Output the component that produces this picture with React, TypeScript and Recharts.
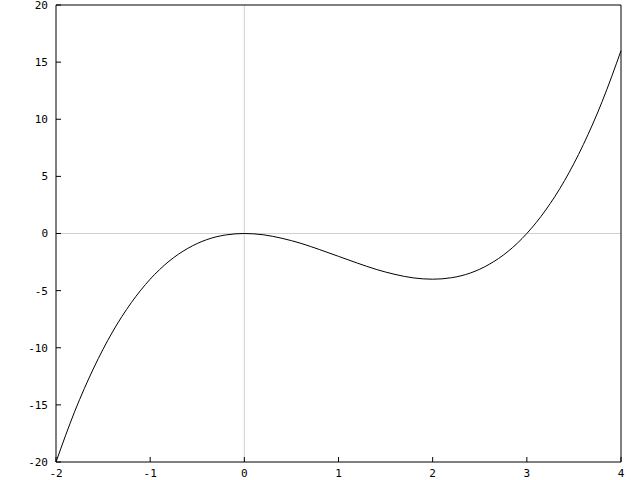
import { LineChart, Line, XAxis, YAxis, ReferenceLine } from "recharts";

// curve values, x step 0.2
const xValues = [
  -2, -1.8, -1.6, -1.4, -1.2, -1, -0.8, -0.6, -0.4, -0.2, 0, 0.2, 0.4, 0.6, 0.8, 1,
  1.2, 1.4, 1.6, 1.8, 2, 2.2, 2.4, 2.6, 2.8, 3, 3.2, 3.4, 3.6, 3.8, 4,
];
const yValues = [
  -20, -15.55, -11.78, -8.62, -6.05, -4, -2.43, -1.3, -0.54, -0.13, 0, -0.11, -0.42,
  -0.86, -1.41, -2, -2.59, -3.14, -3.58, -3.89, -4, -3.87, -3.46, -2.7, -1.57, 0,
  2.05, 4.62, 7.78, 11.55, 16,
];
const xTicks = [-2, -1, 0, 1, 2, 3, 4];
const yTicks = [-20, -15, -10, -5, 0, 5, 10, 15, 20];

const data = xValues.map((x, i) => ({ x, y: yValues[i] }));

const font = { fontFamily: "DejaVu Sans Mono", fontSize: 11, fill: "#000" };

export default function App() {
  return (
    <div style={{ position: "absolute", left: 0, top: 0, width: 640, height: 480, background: "#fff" }}>
      <LineChart width={640} height={480} data={data} margin={{ top: 0, right: 0, bottom: 0, left: 0 }}>
        <XAxis
          xAxisId="b"
          dataKey="x"
          type="number"
          domain={[-2, 4]}
          ticks={xTicks}
          interval={0}
          height={18}
          tickSize={-5}
          tickMargin={12}
          stroke="#000"
          tick={font}
        />
        <XAxis
          xAxisId="t"
          orientation="top"
          dataKey="x"
          type="number"
          domain={[-2, 4]}
          ticks={xTicks}
          interval={0}
          height={5}
          tickSize={-5}
          tick={false}
          stroke="#000"
        />
        <YAxis
          yAxisId="l"
          type="number"
          domain={[-20, 20]}
          ticks={yTicks}
          interval={0}
          width={56}
          tickSize={-5}
          tickMargin={13}
          stroke="#000"
          tick={font}
        />
        <YAxis
          yAxisId="r"
          orientation="right"
          type="number"
          domain={[-20, 20]}
          ticks={yTicks}
          interval={0}
          width={19}
          tickSize={-5}
          tick={false}
          stroke="#000"
        />
        <ReferenceLine xAxisId="b" yAxisId="l" x={0} stroke="#d0d0d0" />
        <ReferenceLine xAxisId="b" yAxisId="l" y={0} stroke="#d0d0d0" />
        <Line
          xAxisId="b"
          yAxisId="l"
          dataKey="y"
          type="monotone"
          stroke="#000"
          strokeWidth={1}
          dot={false}
          isAnimationActive={false}
        />
      </LineChart>
    </div>
  );
}
